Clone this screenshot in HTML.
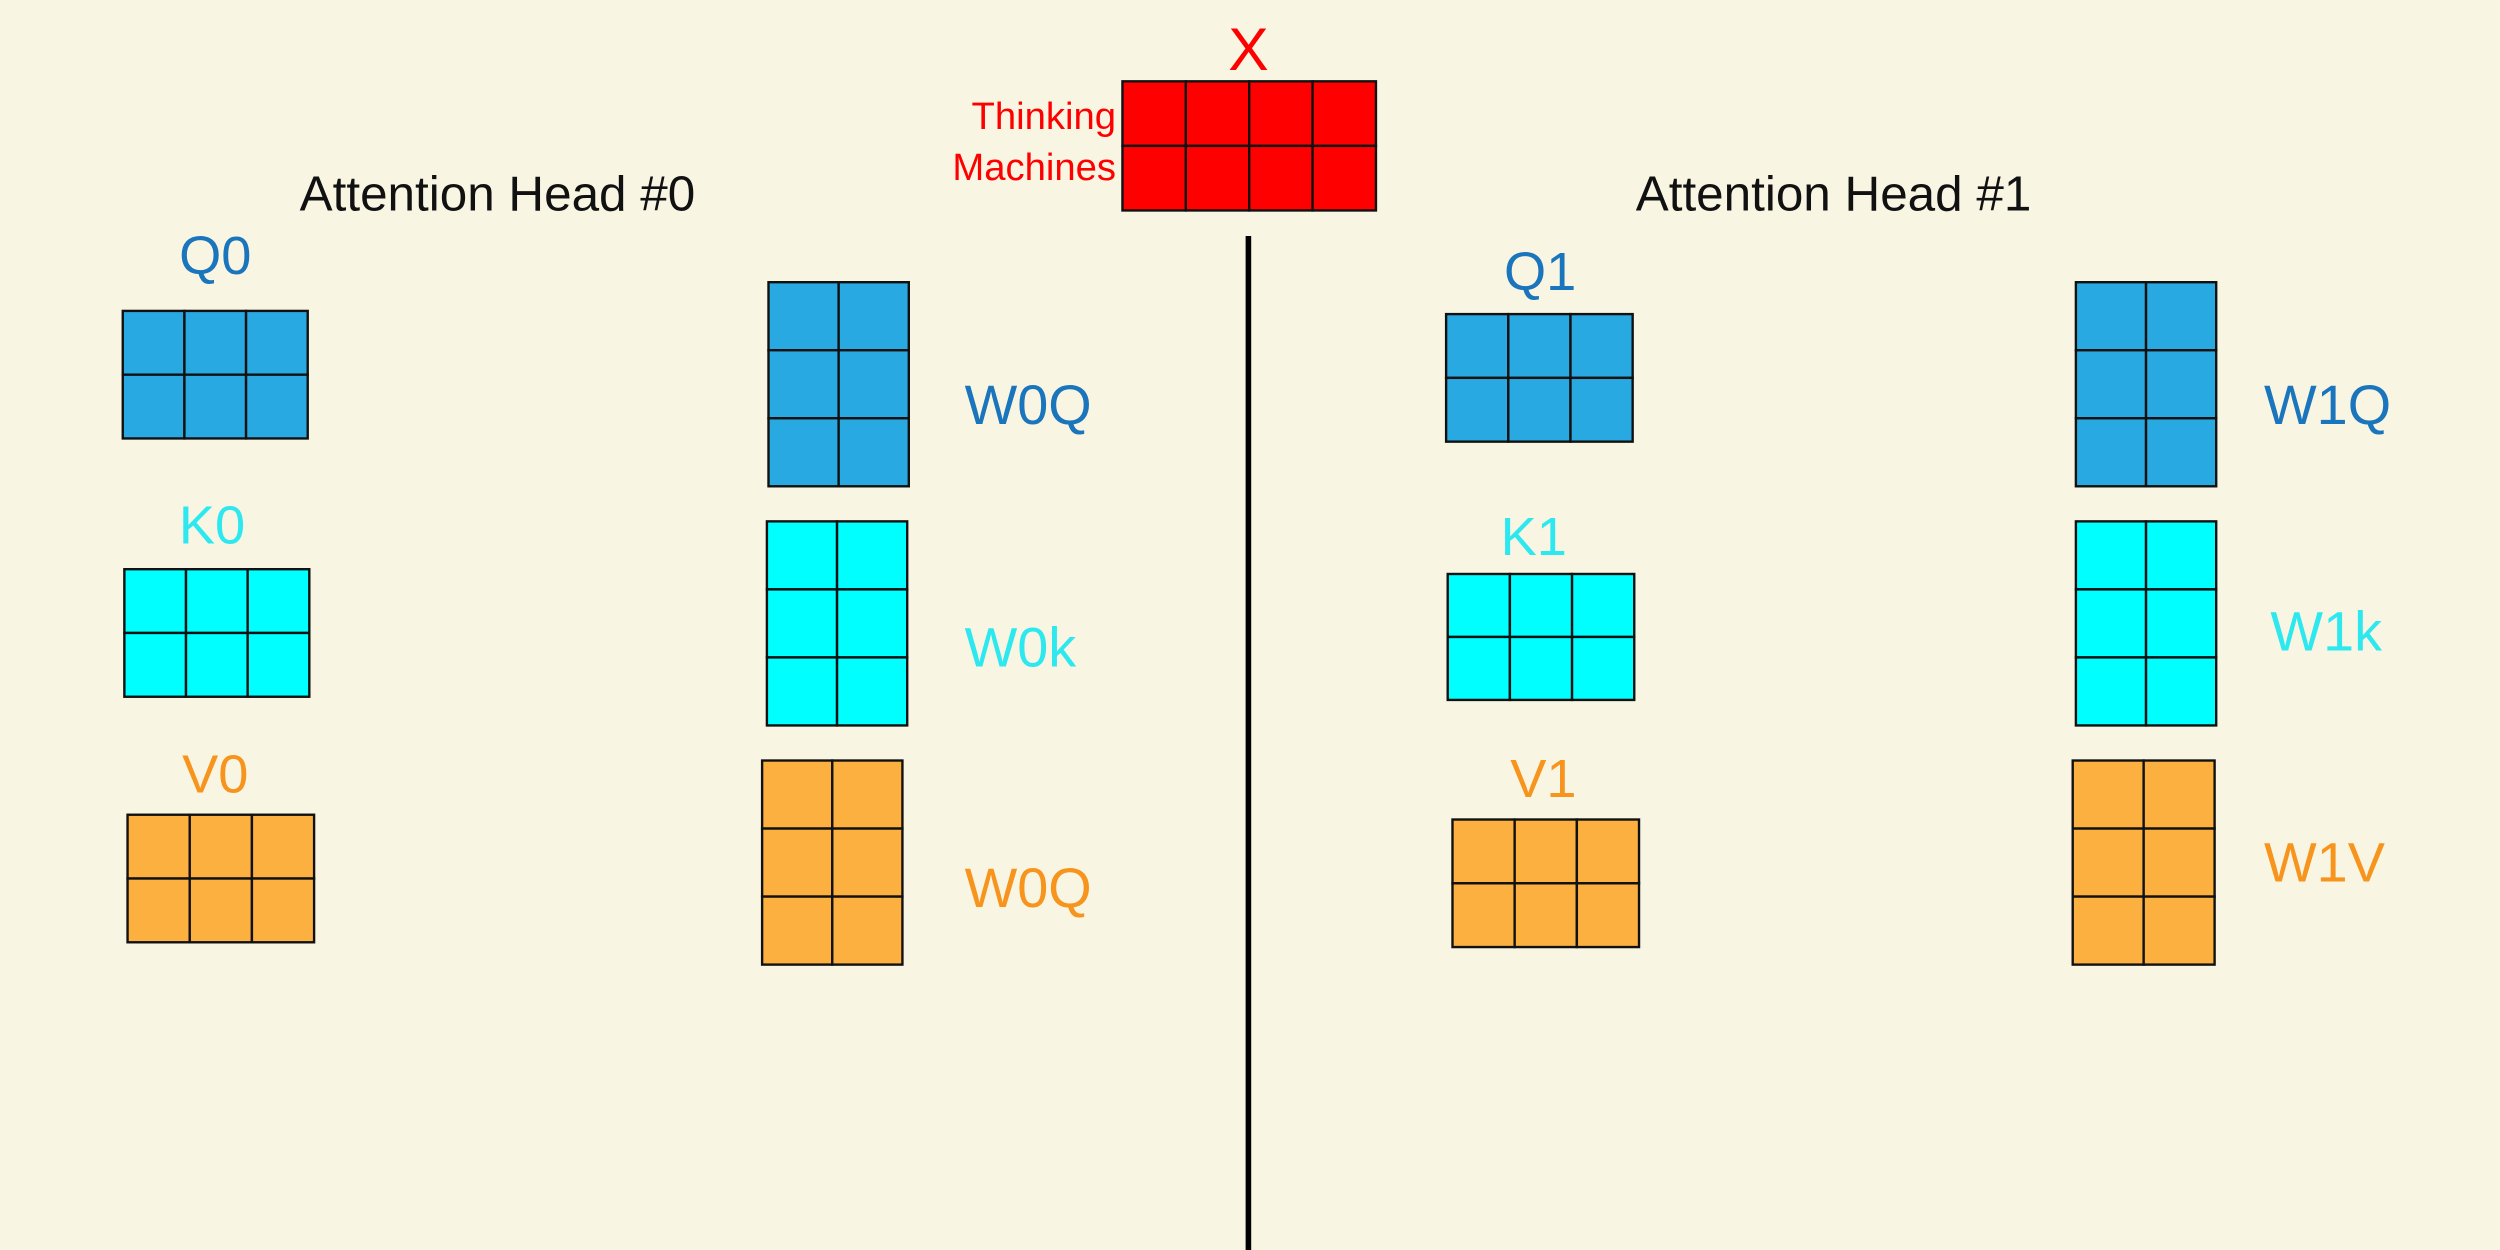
<!DOCTYPE html>
<html><head><meta charset="utf-8"><style>
html,body{margin:0;padding:0;background:#f8f6e3;}
svg{display:block;}
text{font-family:"Liberation Sans",sans-serif;}
</style></head><body>
<svg width="2500" height="1250" viewBox="0 0 1568 784" preserveAspectRatio="none">
<rect x="0" y="0" width="1568" height="784" fill="#f8f6e3"/>
<g id="g"></g>
</svg>
<script>
const mats=[
 ["x-matrix",704,51,159,81,4,2,"#ff0000"],
 ["q0-matrix",77,195,116,80,3,2,"#29a9e1"],
 ["k0-matrix",78,357,116,80,3,2,"#00ffff"],
 ["v0-matrix",80,511,117,80,3,2,"#fbb040"],
 ["w0q-matrix",482,177,88,128,2,3,"#29a9e1"],
 ["w0k-matrix",481,327,88,128,2,3,"#00ffff"],
 ["w0v-matrix",478,477,88,128,2,3,"#fbb040"],
 ["q1-matrix",907,197,117,80,3,2,"#29a9e1"],
 ["k1-matrix",908,360,117,79,3,2,"#00ffff"],
 ["v1-matrix",911,514,117,80,3,2,"#fbb040"],
 ["w1q-matrix",1302,177,88,128,2,3,"#29a9e1"],
 ["w1k-matrix",1302,327,88,128,2,3,"#00ffff"],
 ["w1v-matrix",1300,477,89,128,2,3,"#fbb040"]
];
const labels=[
 ["x-label","X",783,44,38,"#ff0000","middle"],
 ["thinking-label","Thinking",700,81,24,"#ff0000","end"],
 ["machines-label","Machines",700,113,24,"#ff0000","end"],
 ["head0-title","Attention Head #0",312,132,31,"#111","middle"],
 ["head1-title","Attention Head #1",1150,132,31,"#111","middle"],
 ["q0-label","Q0",135,172,34,"#1b75bc","middle"],
 ["k0-label","K0",133,341,34,"#2ee8f0","middle"],
 ["v0-label","V0",135,497,34,"#f7941d","middle"],
 ["w0q-label","W0Q",605,266,35,"#1b75bc","start"],
 ["w0k-label","W0k",605,418,35,"#2ee8f0","start"],
 ["w0v-label","W0Q",605,569,35,"#f7941d","start"],
 ["q1-label","Q1",966,182,34,"#1b75bc","middle"],
 ["k1-label","K1",962,348,34,"#2ee8f0","middle"],
 ["v1-label","V1",968,500,34,"#f7941d","middle"],
 ["w1q-label","W1Q",1420,266,35,"#1b75bc","start"],
 ["w1k-label","W1k",1424,408,35,"#2ee8f0","start"],
 ["w1v-label","W1V",1420,553,35,"#f7941d","start"]
];
const NS="http://www.w3.org/2000/svg",g=document.getElementById('g');
const ln=document.createElementNS(NS,'line');
ln.setAttribute('x1',783);ln.setAttribute('x2',783);ln.setAttribute('y1',148);ln.setAttribute('y2',784);
ln.setAttribute('stroke','#000');ln.setAttribute('stroke-width',3.5);


g.appendChild(ln);
mats.forEach(m=>{
 const [n,x,y,w,h,c,r,f]=m;
 const gr=document.createElementNS(NS,'g');
 
 
 for(let i=0;i<c;i++)for(let j=0;j<r;j++){
  const re=document.createElementNS(NS,'rect');
  re.setAttribute('x',x+i*w/c);re.setAttribute('y',y+j*h/r);
  re.setAttribute('width',w/c);re.setAttribute('height',h/r);
  re.setAttribute('fill',f);re.setAttribute('stroke','#111');re.setAttribute('stroke-width',1.5);
  
  
  gr.appendChild(re);
 }
 g.appendChild(gr);
});
labels.forEach(l=>{
 const [n,s,x,y,fs,col,a]=l;
 const t=document.createElementNS(NS,'text');
 t.setAttribute('x',x);t.setAttribute('y',y);t.setAttribute('font-size',fs);
 t.setAttribute('fill',col);t.setAttribute('text-anchor',a);
 t.textContent=s;
 
 
 g.appendChild(t);
});
</script>
</body></html>
